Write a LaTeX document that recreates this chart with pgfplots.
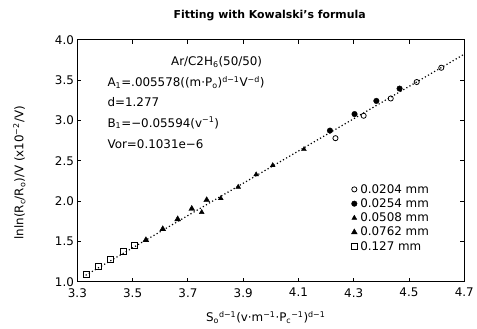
\documentclass[border=0pt]{standalone}
\usepackage{fontspec}
\setmainfont{DejaVu Sans}
\usepackage{pgfplots}
\pgfplotsset{compat=1.18}
\begin{document}
\begin{tikzpicture}
\begin{axis}[
  name=ax,
  scale only axis, width=390pt, height=244pt,
  xmin=3.3, xmax=4.7, ymin=1, ymax=4,
  xtick={3.3,3.5,3.7,3.9,4.1,4.3,4.5,4.7},
  ytick={1,1.5,2,2.5,3,3.5,4},
  tick align=inside, xtick pos=both, ytick pos=both,
  major tick length=4pt,
  axis line style={line width=1.3pt},
  every tick/.style={black, line width=0.9pt},
  /pgf/number format/.cd, fixed, fixed zerofill, precision=1, assume math mode=true,
  /pgfplots/.cd,
  tick label style={font=\fontsize{12}{14}\selectfont},
  xticklabel style={yshift=-3pt},
  title={Fitting with Kowalski's formula},
  title style={font=\fontsize{11}{13}\selectfont\bfseries, at={(axis description cs:0.497,1.074)}, anchor=center},
  xlabel={S\textsubscript{o}\textsuperscript{d−1}(v·m\textsuperscript{−1}·P\textsubscript{c}\textsuperscript{−1})\textsuperscript{d−1}},
  xlabel style={font=\fontsize{12}{14}\selectfont, at={(axis description cs:0.487,-0.148)}, anchor=center},
  ylabel={lnln(R\textsubscript{c}/R\textsubscript{o})/V (x10\textsuperscript{−2}/V)},
  ylabel style={font=\fontsize{12}{14}\selectfont, at={(axis description cs:-0.15,0.45)}, anchor=center},
  legend style={draw=none, fill=none, at={(rel axis cs:0.70,0.42)}, anchor=north west,
    font=\fontsize{12}{14}\selectfont, row sep=0pt, nodes={inner xsep=3pt}},
  legend cell align=left,
]
\addplot[black, dash pattern=on 1.2pt off 2.4pt, line width=1.2pt, forget plot]
  coordinates {(3.33,1.08) (4.70,3.82)};
\addplot[only marks, mark=o, mark size=2.6pt, thick, mark options={fill=white}]
  coordinates {(4.234,2.779) (4.336,3.057) (4.434,3.271) (4.528,3.475) (4.617,3.652)};
\addlegendentry{0.0204 mm}
\addplot[only marks, mark=*, mark size=2.8pt, black]
  coordinates {(4.214,2.873) (4.303,3.078) (4.382,3.241) (4.466,3.394)};
\addlegendentry{0.0254 mm}
\addplot[only marks, mark=triangle*, mark size=2.8pt, black]
  coordinates {(3.750,1.861) (3.819,2.033) (3.882,2.174) (3.947,2.328) (4.007,2.442) (4.120,2.641)};
\addlegendentry{0.0508 mm}
\addplot[only marks, mark=triangle*, mark size=3.4pt, black]
  coordinates {(3.548,1.516) (3.609,1.652) (3.663,1.775) (3.714,1.904) (3.768,2.012)};
\addlegendentry{0.0762 mm}
\addplot[only marks, mark=square, mark size=3pt, thick, black, mark options={fill=white}]
  coordinates {(3.333,1.086) (3.377,1.193) (3.421,1.279) (3.465,1.377) (3.507,1.455)};
\addlegendentry{0.127 mm}
\node[font=\fontsize{12}{14}\selectfont, anchor=center] at (rel axis cs:0.36,0.906) {Ar/C2H\textsubscript{6}(50/50)};
\node[font=\fontsize{12}{14}\selectfont, anchor=west] at (rel axis cs:0.069,0.824) {A\textsubscript{1}=.005578((m·P\textsubscript{o})\textsuperscript{d−1}V\textsuperscript{−d})};
\node[font=\fontsize{12}{14}\selectfont, anchor=west] at (rel axis cs:0.069,0.742) {d=1.277};
\node[font=\fontsize{12}{14}\selectfont, anchor=west] at (rel axis cs:0.069,0.656) {B\textsubscript{1}=−0.05594(v\textsuperscript{−1})};
\node[font=\fontsize{12}{14}\selectfont, anchor=west] at (rel axis cs:0.069,0.570) {Vor=0.1031e−6};
\end{axis}
\path ([shift={(-78pt,-47pt)}]ax.south west) rectangle ([shift={(9pt,40pt)}]ax.north east);
\end{tikzpicture}
\end{document}
